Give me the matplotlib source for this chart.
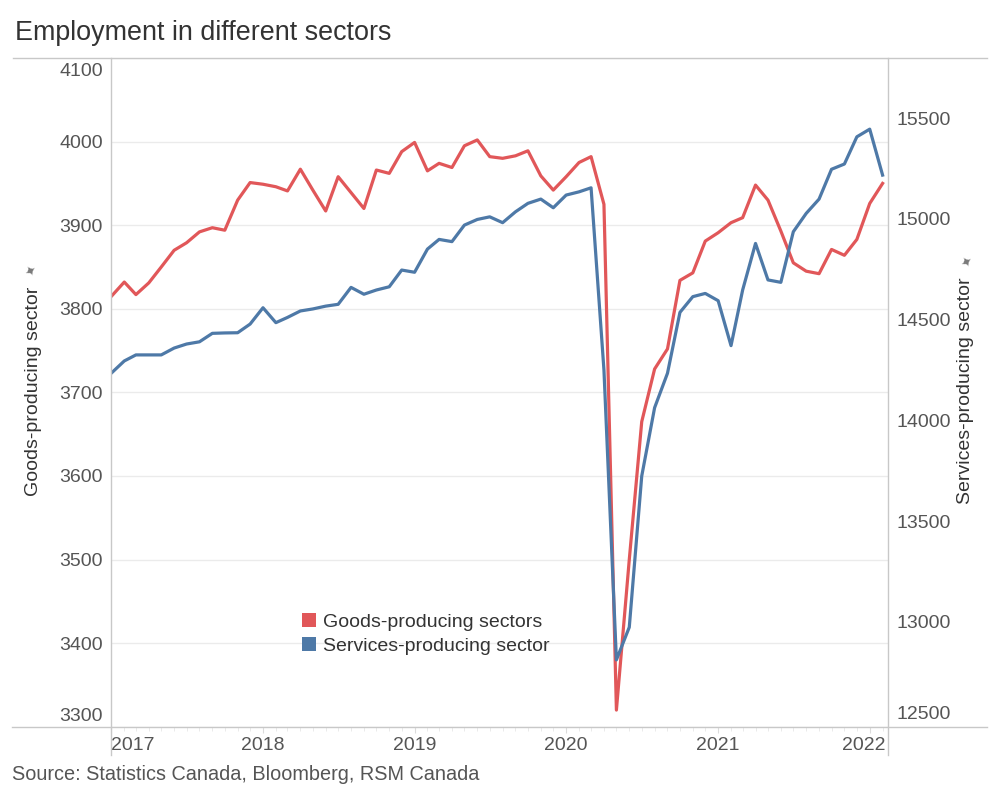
import matplotlib.pyplot as plt
import matplotlib.dates as mdates
import matplotlib.transforms as mtransforms
from matplotlib.lines import Line2D
from matplotlib.patches import Patch
import pandas as pd

# monthly data, Jan 2017 - Feb 2022 (thousands of jobs)
months = pd.date_range("2017-01-01", "2022-02-01", freq="MS")
goods = [3815, 3832, 3817, 3831, 3850, 3870, 3879, 3892, 3897, 3894,
         3930, 3951, 3949, 3946, 3941, 3967, 3942, 3917, 3958, 3939,
         3920, 3966, 3962, 3988, 3999, 3965, 3974, 3969, 3995, 4002,
         3982, 3980, 3983, 3989, 3959, 3942, 3958, 3975, 3982, 3925,
         3320, 3500, 3665, 3728, 3752, 3834, 3843, 3881, 3891, 3903,
         3909, 3948, 3930, 3893, 3855, 3845, 3842, 3871, 3864, 3883,
         3926, 3950]
services = [14235, 14295, 14325, 14325, 14325, 14359, 14379, 14390, 14432, 14434,
            14435, 14478, 14559, 14485, 14511, 14543, 14553, 14567, 14576, 14660,
            14626, 14647, 14663, 14746, 14735, 14850, 14898, 14887, 14969, 14997,
            15010, 14981, 15035, 15077, 15098, 15055, 15118, 15134, 15154, 14250,
            12812, 12974, 13724, 14063, 14234, 14536, 14614, 14630, 14594, 14371,
            14647, 14878, 14697, 14685, 14936, 15027, 15098, 15246, 15272, 15407,
            15445, 15217]

goods_ticks = [3300, 3400, 3500, 3600, 3700, 3800, 3900, 4000, 4100]
services_ticks = [12500, 13000, 13500, 14000, 14500, 15000, 15500]
year_labels = ["2017", "2018", "2019", "2020", "2021", "2022"]

RED = "#e15759"
BLUE = "#4e79a7"
TICK_COLOR = "#555555"
LINE_COLOR = "#c8c8c8"

plt.rcParams['font.family'] = ['Liberation Sans', 'DejaVu Sans']

fig = plt.figure(figsize=(10, 8), dpi=100)
W, H = 1000.0, 800.0


def px_shift(dx, dy):
    # offset in pixels (fig is 100 dpi)
    return mtransforms.ScaledTranslation(dx / 100, dy / 100, fig.dpi_scale_trans)


# plot area in pixels: x 111..888, y 58..727
ax = fig.add_axes([111 / W, 1 - 726.8 / H, 777 / W, 668.8 / H])
ax2 = ax.twinx()

ax.plot(months, goods, color=RED, lw=2.3, solid_joinstyle='round', zorder=3)
ax2.plot(months, services, color=BLUE, lw=2.3, solid_joinstyle='round', zorder=3)

ax.set_xlim(pd.Timestamp("2016-12-31"), pd.Timestamp("2022-02-14"))
ax.set_ylim(3300, 4100)
ax2.set_ylim(12480, 15798)

# y axes
ax.set_yticks(goods_ticks)
ax.set_yticklabels([str(v) for v in goods_ticks])
ax2.set_yticks(services_ticks)
ax2.set_yticklabels([str(v) for v in services_ticks])
ax.tick_params(axis='y', length=0, pad=6, labelsize=14, labelcolor=TICK_COLOR)
ax2.tick_params(axis='y', length=0, pad=6.3, labelsize=14, labelcolor=TICK_COLOR)
ax.yaxis.grid(True, color="#ebebeb", lw=1)
ax.set_axisbelow(True)

# end labels pulled inside the plot height
ylab = ax.get_yticklabels()
ylab[0].set_transform(ylab[0].get_transform() + px_shift(0, 12))
ylab[-1].set_transform(ylab[-1].get_transform() + px_shift(0, -12))
ylab2 = ax2.get_yticklabels()
ylab2[0].set_transform(ylab2[0].get_transform() + px_shift(0, 10))

# x axis: years with monthly minor ticks
year_starts = pd.to_datetime([y + "-01-01" for y in year_labels])
ax.set_xticks(year_starts)
ax.set_xticklabels(year_labels)
ax.xaxis.set_minor_locator(mdates.MonthLocator())
ax.tick_params(axis='x', which='major', length=4, color="#dcdcdc", pad=3,
               labelsize=14, labelcolor=TICK_COLOR)
ax.tick_params(axis='x', which='minor', length=3, color="#e6e6e6")
xlab = ax.get_xticklabels()
xlab[0].set_ha('left')
xlab[-1].set_transform(xlab[-1].get_transform() + px_shift(-6, 0))

for a in (ax, ax2):
    for s in a.spines.values():
        s.set_visible(False)

# axis titles
ax.set_ylabel("Goods-producing sector", fontsize=14, color="#333333")
ax.yaxis.set_label_coords((42 - 111) / 777, 0.502)
ax2.set_ylabel("Services-producing sector", fontsize=14, color="#333333")
ax2.yaxis.set_label_coords((957 - 111) / 777, 0.502)
fig.text(31 / W, 1 - 272 / H, "\u2726", fontsize=10, color="#7a7a7a",
         ha='center', va='center', rotation=30)
fig.text(967 / W, 1 - 263 / H, "\u2726", fontsize=10, color="#7a7a7a",
         ha='center', va='center', rotation=30)

# frame lines
fig.add_artist(Line2D([13 / W, 987 / W], [1 - 58 / H, 1 - 58 / H], color=LINE_COLOR, lw=1))
fig.add_artist(Line2D([12 / W, 987 / W], [1 - 726.8 / H, 1 - 726.8 / H], color=LINE_COLOR, lw=1))
fig.add_artist(Line2D([111 / W, 111 / W], [1 - 58 / H, 1 - 755 / H], color=LINE_COLOR, lw=1))
fig.add_artist(Line2D([888 / W, 888 / W], [1 - 58 / H, 1 - 755 / H], color=LINE_COLOR, lw=1))

# legend
handles = [Patch(facecolor=RED, edgecolor='none'), Patch(facecolor=BLUE, edgecolor='none')]
ax2.legend(handles, ["Goods-producing sectors", "Services-producing sector"],
           loc='upper left', bbox_to_anchor=(302 / W, 1 - 613 / H),
           bbox_transform=fig.transFigure, frameon=False, fontsize=14,
           handlelength=0.72, handleheight=0.72, handletextpad=0.36,
           labelspacing=0.33, borderaxespad=0, borderpad=0,
           labelcolor="#333333")

fig.text(15 / W, 1 - 33 / H, "Employment in different sectors", fontsize=19.4,
         color="#333333", va='center', ha='left')
fig.text(12 / W, 1 - 775 / H, "Source: Statistics Canada, Bloomberg, RSM Canada",
         fontsize=14.3, color="#555555", va='center', ha='left')

fig.savefig("out.png", dpi=100)
